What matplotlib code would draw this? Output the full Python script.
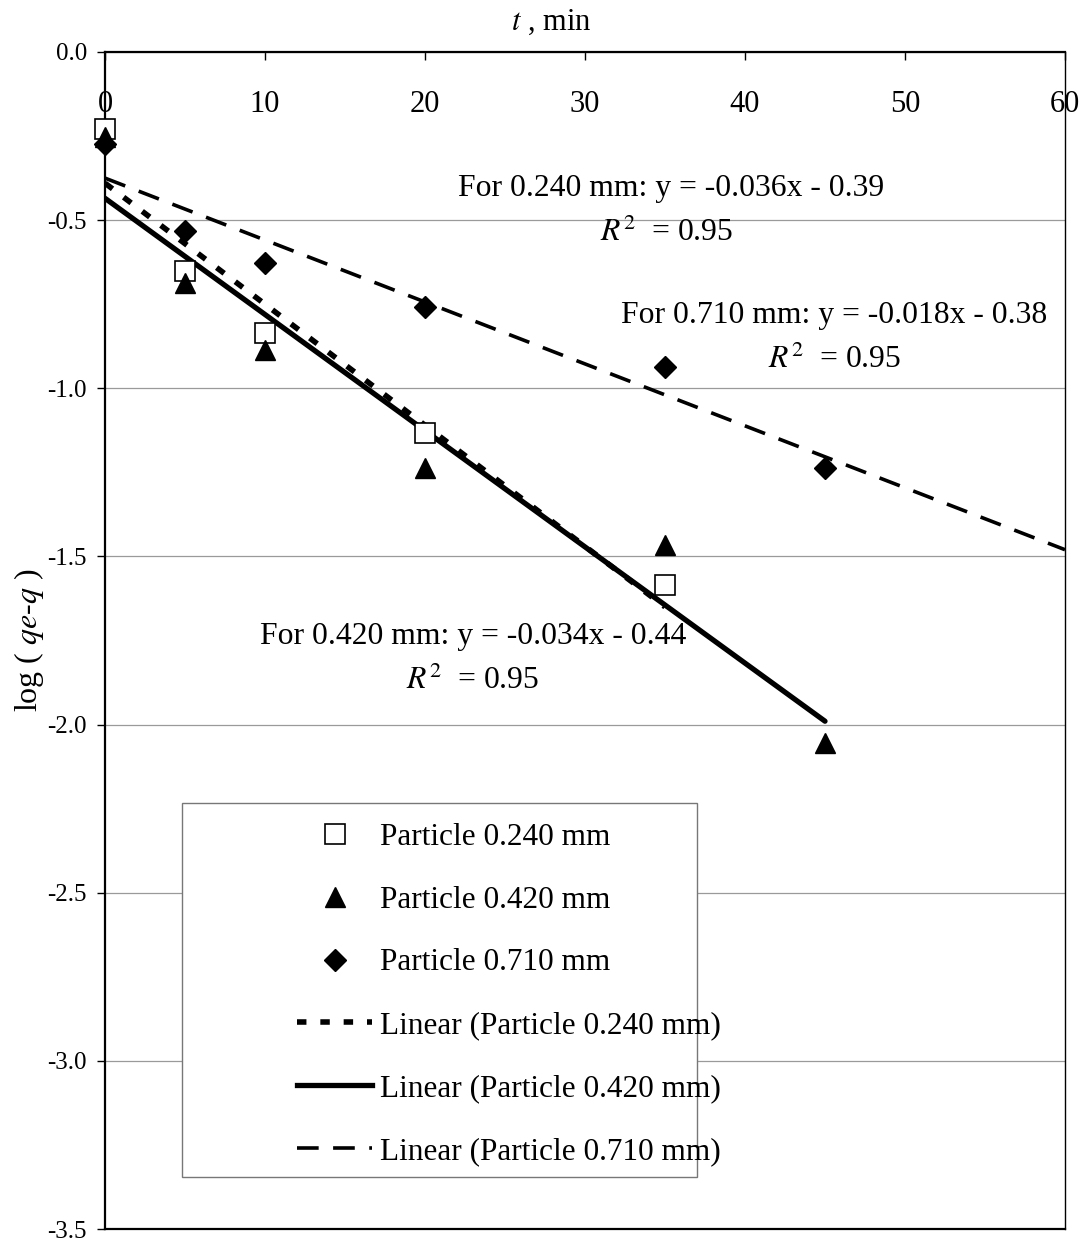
import matplotlib
matplotlib.use("Agg")
import matplotlib.pyplot as plt
from matplotlib.patches import Rectangle
from matplotlib.lines import Line2D

plt.rcParams['font.family'] = ['Liberation Serif', 'DejaVu Serif']
plt.rcParams['mathtext.fontset'] = 'stix'

# ---- data ----
t_024 = [0, 5, 10, 20, 35]
y_024 = [-0.229, -0.652, -0.836, -1.134, -1.586]
t_042 = [0, 5, 10, 20, 35, 45]
y_042 = [-0.253, -0.688, -0.887, -1.238, -1.467, -2.054]
t_071 = [0, 5, 10, 20, 35, 45]
y_071 = [-0.274, -0.533, -0.628, -0.759, -0.9375, -1.238]

# trendline endpoints
fit_t_024 = [0, 35]
fit_y_024 = [-0.39, -1.65]
fit_t_042 = [0, 45]
fit_y_042 = [-0.435, -1.99]
fit_t_071 = [0, 60]
fit_y_071 = [-0.375, -1.48]

x_ticks = [0, 10, 20, 30, 40, 50, 60]
y_ticks = [0.0, -0.5, -1.0, -1.5, -2.0, -2.5, -3.0, -3.5]

labels = ["Particle 0.240 mm", "Particle 0.420 mm", "Particle 0.710 mm",
          "Linear (Particle 0.240 mm)", "Linear (Particle 0.420 mm)",
          "Linear (Particle 0.710 mm)"]

# ---- figure ----
fig = plt.figure(figsize=(10.85, 12.42), dpi=100)
ax = fig.add_axes([105/1085, 1-1229/1242, 960/1085, 1177/1242])
ax.set_xlim(0, 60)
ax.set_ylim(-3.5, 0.0)

ax.set_yticks(y_ticks)
ax.set_yticklabels([f"{v:.1f}" for v in y_ticks])
ax.set_xticks(x_ticks)
ax.tick_params(axis='y', direction='out', length=6, width=1, labelsize=18, pad=7)
ax.tick_params(axis='x', top=True, bottom=False, labeltop=True, labelbottom=False,
               direction='in', length=6, width=1, labelsize=22, pad=-27)
for lbl in ax.get_xticklabels():
    lbl.set_verticalalignment('top')

ax.yaxis.grid(True, color='#9a9a9a', lw=0.9)
ax.set_axisbelow(True)
for s in ax.spines.values():
    s.set_color('black')
    s.set_linewidth(1.6)
ax.spines['right'].set_linewidth(1.0)

# trend lines
ax.plot(fit_t_024, fit_y_024, color='black', lw=4, linestyle=(0, (1.7, 2.5)),
        dash_capstyle='butt', zorder=3)
ax.plot(fit_t_042, fit_y_042, color='black', lw=3.8, solid_capstyle='round', zorder=3)
ax.plot(fit_t_071, fit_y_071, color='black', lw=2.6, linestyle=(0, (6, 4)), zorder=3)

# markers
ax.plot(t_024, y_024, linestyle='none', marker='s', markersize=14,
        markerfacecolor='white', markeredgecolor='black', markeredgewidth=1.2,
        zorder=4, clip_on=False)
ax.plot(t_042, y_042, linestyle='none', marker='^', markersize=14,
        color='black', zorder=5, clip_on=False)
ax.plot(t_071, y_071, linestyle='none', marker='D', markersize=11,
        color='black', zorder=6, clip_on=False)

# annotations
fs_ann = 22.8
ax.text(35.4, -0.405, "For 0.240 mm: y = -0.036x - 0.39", fontsize=fs_ann,
        ha='center', va='center')
ax.text(35.1, -0.536, r"$R^{2}$  = 0.95", fontsize=fs_ann, ha='center', va='center')
ax.text(45.6, -0.783, "For 0.710 mm: y = -0.018x - 0.38", fontsize=fs_ann,
        ha='center', va='center')
ax.text(45.6, -0.914, r"$R^{2}$  = 0.95", fontsize=fs_ann, ha='center', va='center')
ax.text(23.0, -1.738, "For 0.420 mm: y = -0.034x - 0.44", fontsize=fs_ann,
        ha='center', va='center')
ax.text(23.0, -1.869, r"$R^{2}$  = 0.95", fontsize=fs_ann, ha='center', va='center')

# title and y label
fig.text(551/1085, 1-22/1242, r"$t$ , min", fontsize=22, ha='center', va='center')
fig.text(29/1085, 1-640/1242, r"log ( $qe$-$q$ )", fontsize=23, rotation=90,
         ha='center', va='center')

# legend box (frame drawn separately)
rect = Rectangle(((182-105)/960, (1229-1177)/1177), (697-182)/960, (1177-803)/1177,
                 transform=ax.transAxes, facecolor='white', edgecolor='#777777',
                 lw=1.0, zorder=7)
ax.add_patch(rect)

h1 = Line2D([], [], linestyle='none', marker='s', markersize=14, markerfacecolor='white',
            markeredgecolor='black', markeredgewidth=1.2)
h2 = Line2D([], [], linestyle='none', marker='^', markersize=14, color='black')
h3 = Line2D([], [], linestyle='none', marker='D', markersize=11, color='black')
h4 = Line2D([], [], color='black', lw=4, linestyle=(0, (1.7, 2.5)))
h5 = Line2D([], [], color='black', lw=3.8)
h6 = Line2D([], [], color='black', lw=2.6, linestyle=(0, (6, 4)))
leg = ax.legend([h1, h2, h3, h4, h5, h6], labels, loc='upper left',
                bbox_to_anchor=((297-105)/960, (1229-823)/1177),
                frameon=False, fontsize=22.5, handlelength=2.4, handletextpad=0.26,
                labelspacing=1.08, borderpad=0.0, borderaxespad=0.0)
leg.set_zorder(8)

fig.savefig("out.png", dpi=100)
